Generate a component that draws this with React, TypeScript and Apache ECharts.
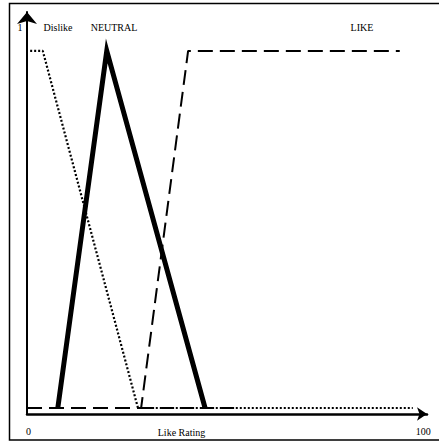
import React, { useEffect, useRef } from "react";
import * as echarts from "echarts";

// Membership functions (x: Like Rating 0..100, y: membership 0..1)
const dislikeX = [0.8, 4.0, 28.1, 97.7];
const dislikeY = [1, 1, 0, 0];
const neutralX = [7.8, 20.2, 45.1];
const neutralY = [0, 1, 0];
const likeX = [0, 28.9, 40.8, 94.4];
const likeY = [0, 0, 1, 1];
const baseX = [28.9, 54.0];
const baseY = [0, 0];

const xTickLabels = ["0", "100"];
const setNames = ["Dislike", "NEUTRAL", "LIKE"];
const axisTitle = "Like Rating";
const yTopLabel = "1";

const pairs = (xs: number[], ys: number[]) => xs.map((x, i) => [x, ys[i]]);

const FONT = "'Liberation Serif', 'Times New Roman', serif";

export default function App() {
  const ref = useRef<HTMLDivElement>(null);
  useEffect(() => {
    if (!ref.current) return;
    const chart = echarts.init(ref.current, undefined, { renderer: "svg" });
    const txt = { fontFamily: FONT, fontSize: 10, fill: "#000" };
    chart.setOption({
      animation: false,
      backgroundColor: "#fff",
      grid: { left: 27, right: 12, top: 12, bottom: 29 },
      xAxis: {
        type: "value",
        min: 0,
        max: 101.3,
        interval: 100,
        axisLine: {
          onZero: false,
          symbol: ["none", "arrow"],
          symbolSize: [10, 10],
          lineStyle: { color: "#000", width: 2.5 },
        },
        axisTick: { show: false },
        splitLine: { show: false },
        axisLabel: {
          margin: 12,
          padding: [0, 0, 0, 3],
          fontFamily: FONT,
          fontSize: 10,
          color: "#000",
          formatter: (v: number) =>
            v === 0 ? xTickLabels[0] : v === 100 ? xTickLabels[1] : "",
        },
      },
      yAxis: {
        type: "value",
        min: -0.0168,
        max: 1.109,
        axisLine: {
          show: true,
          onZero: false,
          symbol: ["none", "arrow"],
          symbolSize: [15, 12],
          lineStyle: { color: "#000", width: 2 },
        },
        axisTick: { show: false },
        splitLine: { show: false },
        axisLabel: { show: false },
      },
      graphic: [
        {
          type: "rect",
          shape: { x: 9.5, y: 3.5, width: 440, height: 436.5 },
          style: { fill: "none", stroke: "#000", lineWidth: 1.5 },
          silent: true,
        },
        { type: "text", x: 20, y: 27, style: { ...txt, text: yTopLabel, align: "center", verticalAlign: "middle" } },
        { type: "text", x: 58, y: 27, style: { ...txt, text: setNames[0], align: "center", verticalAlign: "middle" } },
        { type: "text", x: 114, y: 27, style: { ...txt, text: setNames[1], align: "center", verticalAlign: "middle" } },
        { type: "text", x: 362, y: 27, style: { ...txt, text: setNames[2], align: "center", verticalAlign: "middle" } },
        { type: "text", x: 181.5, y: 432, style: { ...txt, text: axisTitle, align: "center", verticalAlign: "middle" } },
      ],
      series: [
        {
          name: "Dislike",
          type: "line",
          data: pairs(dislikeX, dislikeY),
          symbol: "none",
          lineStyle: { color: "#000", width: 2.2, type: [2, 2] },
        },
        {
          name: "Base",
          type: "line",
          data: pairs(baseX, baseY),
          symbol: "none",
          lineStyle: { color: "#000", width: 2, type: [13, 7] },
        },
        {
          name: "Like",
          type: "line",
          data: pairs(likeX, likeY),
          symbol: "none",
          lineStyle: { color: "#000", width: 2, type: [15, 7] },
        },
        {
          name: "Neutral",
          type: "line",
          data: pairs(neutralX, neutralY),
          symbol: "none",
          lineStyle: { color: "#000", width: 5, join: "miter", miterLimit: 20 },
        },
      ],
    });
    return () => chart.dispose();
  }, []);
  return (
    <div
      ref={ref}
      style={{ position: "fixed", left: 0, top: 0, width: 439, height: 443 }}
    />
  );
}
